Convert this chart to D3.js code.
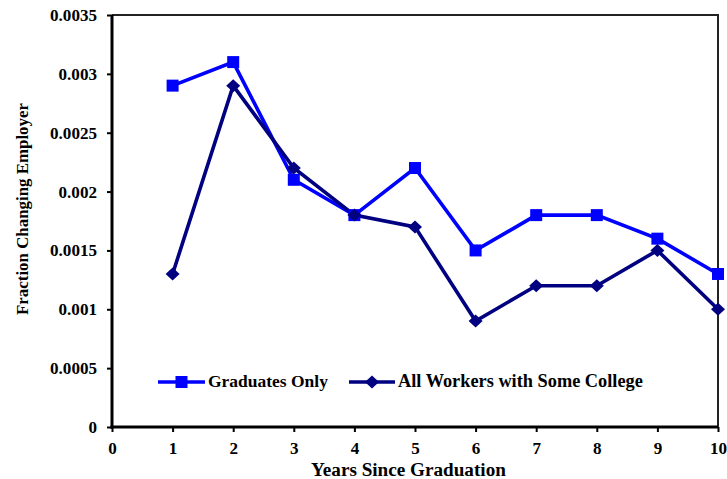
<!DOCTYPE html>
<html><head><meta charset="utf-8">
<script src="https://cdn.jsdelivr.net/npm/d3@7"></script>
<style>body{margin:0;background:#fff}svg{display:block}</style>
</head><body><svg id="c" width="727" height="479"></svg>
<script>
const years = [1,2,3,4,5,6,7,8,9,10];
const graduatesOnly = [0.0029,0.0031,0.0021,0.0018,0.0022,0.0015,0.0018,0.0018,0.0016,0.0013];
const allWorkers = [0.0013,0.0029,0.0022,0.0018,0.0017,0.0009,0.0012,0.0012,0.0015,0.0010];
const xTicks = [0,1,2,3,4,5,6,7,8,9,10];
const yTicks = [0,0.0005,0.001,0.0015,0.002,0.0025,0.003,0.0035];
const yTickLabels = ["0","0.0005","0.001","0.0015","0.002","0.0025","0.003","0.0035"];
const seriesNames = ["Graduates Only","All Workers with Some College"];
const xTitle = "Years Since Graduation";
const yTitle = "Fraction Changing Employer";

const FONT = "'Liberation Serif', 'Times New Roman', 'DejaVu Serif', serif";
const svg = d3.select("#c");
const L=112,R=718,T=15,B=427;
const x = d3.scaleLinear().domain([0,10]).range([L,R]);
const y = d3.scaleLinear().domain([0,0.0035]).range([B,T]);

function styleText(sel, fs){ return sel.style("font-size",fs+"px").style("font-family",FONT).style("font-weight","bold").attr("fill","#000"); }
// scale font so that the text spans a target width
function fit(sel, target){
  styleText(sel, 20);
  const w = sel.node().getComputedTextLength();
  const fs = 20*target/w;
  styleText(sel, fs);
  return fs;
}

svg.append("path").attr("d",`M${L},${T}H${R}V${B}`).attr("fill","none").attr("stroke","#222").attr("stroke-width",2);

const gx = svg.append("g").attr("transform",`translate(0,${B})`)
  .call(d3.axisBottom(x).tickValues(xTicks).tickFormat(d3.format("d")).tickSize(5).tickPadding(10).tickSizeOuter(0));
const gy = svg.append("g").attr("transform",`translate(${L},0)`)
  .call(d3.axisLeft(y).tickValues(yTicks).tickFormat((d,i)=>yTickLabels[i]).tickSize(5).tickPadding(10).tickSizeOuter(0));
[gx,gy].forEach(g=>{
  g.attr("font-family",null).attr("font-size",null);
  g.select(".domain").attr("stroke","#000").attr("stroke-width",3);
  g.selectAll(".tick line").attr("stroke","#000").attr("stroke-width",2);
});
const yTop = gy.selectAll(".tick text").filter(d=>d===0.0035);
const tickFs = fit(yTop, 47);
styleText(gy.selectAll(".tick text"), tickFs);
styleText(gx.selectAll(".tick text"), tickFs);
gy.select(".domain").attr("d",`M0,${B+1.5}V${T}`);
gx.select(".domain").attr("d",`M${L-1.5},0H${R}`);

const line = d3.line().x((d,i)=>x(years[i])).y(d=>y(d));
const colors=["#0000ff","#000080"];
svg.append("path").datum(graduatesOnly).attr("d",line).attr("fill","none").attr("stroke",colors[0]).attr("stroke-width",3.6);
svg.append("path").datum(allWorkers).attr("d",line).attr("fill","none").attr("stroke",colors[1]).attr("stroke-width",3.6);

const sq = d3.symbol().type(d3.symbolSquare).size(144);
const dm = "M0,-6.5L7,0L0,6.5L-7,0Z";
svg.selectAll(".s1").data(graduatesOnly).join("path").attr("d",sq)
  .attr("transform",(d,i)=>`translate(${x(years[i])},${y(d)})`).attr("fill",colors[0]);
svg.selectAll(".s2").data(allWorkers).join("path").attr("d",dm)
  .attr("transform",(d,i)=>`translate(${x(years[i])},${y(d)})`).attr("fill",colors[1]);

const leg = [{x1:158,x2:205,name:seriesNames[0],sym:sq,c:colors[0],w:120},{x1:349,x2:395,name:seriesNames[1],sym:dm,c:colors[1],w:245}];
const ly=382;
leg.forEach(l=>{
  svg.append("line").attr("x1",l.x1).attr("x2",l.x2).attr("y1",ly).attr("y2",ly).attr("stroke",l.c).attr("stroke-width",3.6);
  svg.append("path").attr("d",l.sym).attr("transform",`translate(${(l.x1+l.x2)/2},${ly})`).attr("fill",l.c);
  const t = svg.append("text").attr("x",l.x2+3).attr("y",387).text(l.name);
  fit(t, l.w);
});

fit(svg.append("text").attr("x",408.5).attr("y",476).attr("text-anchor","middle").text(xTitle), 195);
fit(svg.append("text").attr("transform",`translate(28,209) rotate(-90)`).attr("text-anchor","middle").text(yTitle), 212);
</script></body></html>
